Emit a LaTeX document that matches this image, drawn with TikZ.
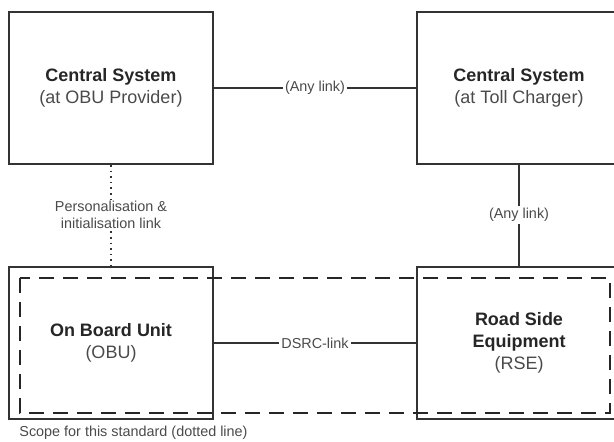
\documentclass[tikz,border=0pt]{standalone}
\usepackage{fontspec}
\setmainfont{Liberation Sans}
\usepackage{xcolor}
\usetikzlibrary{positioning}

\definecolor{linegray}{HTML}{333333}
\definecolor{textgray}{HTML}{4A4A4A}

\tikzset{
  sysbox/.style={draw=linegray, line width=1pt, minimum width=102pt, minimum height=76pt,
    align=center, font=\fontsize{9}{11}\selectfont, text=textgray},
  linklabel/.style={inner sep=1pt, font=\fontsize{7.2}{8.6}\selectfont, text=textgray, align=center},
  linkline/.style={draw=linegray, line width=0.7pt},
  scopeline/.style={draw=black!85, line width=1.1pt, dash pattern=on 7.5pt off 4.5pt}
}

\begin{document}
\begin{tikzpicture}[x=0.5pt, y=-0.5pt]
\useasboundingbox (0,0) rectangle (614,441);

% the four blocks
\node[sysbox] (csobu) at (111,88) {\textbf{\color{black!85}Central System}\\(at OBU Provider)};
\node[sysbox] (cstoll) at (519,88) {\textbf{\color{black!85}Central System}\\(at Toll Charger)};
\node[sysbox] (obu) at (111,343) {\textbf{\color{black!85}On Board Unit}\\(OBU)};
\node[sysbox] (rse) at (519,343) {\textbf{\color{black!85}Road Side}\\\textbf{\color{black!85}Equipment}\\(RSE)};

% scope of the standard
\draw[scopeline] (20,278) rectangle (610,413);
\node[linklabel, anchor=west] (scopetext) at (17,433) {Scope for this standard (dotted line)};

% links
\node[linklabel] (anytop) at (315,88) {(Any link)};
\node[linklabel] (dsrc) at (315,343) {DSRC-link};
\node[linklabel] (perso) at (111,215) {Personalisation \&\\initialisation link};
\node[linklabel] (anyright) at (519,215) {(Any link)};

\draw[linkline] (csobu) -- (anytop) -- (cstoll);
\draw[linkline] (obu) -- (dsrc) -- (rse);
\draw[linkline] (cstoll) -- (anyright) -- (rse);
\draw[linkline, line width=0.8pt, dotted] (csobu) -- (perso) -- (obu);

\end{tikzpicture}
\end{document}
